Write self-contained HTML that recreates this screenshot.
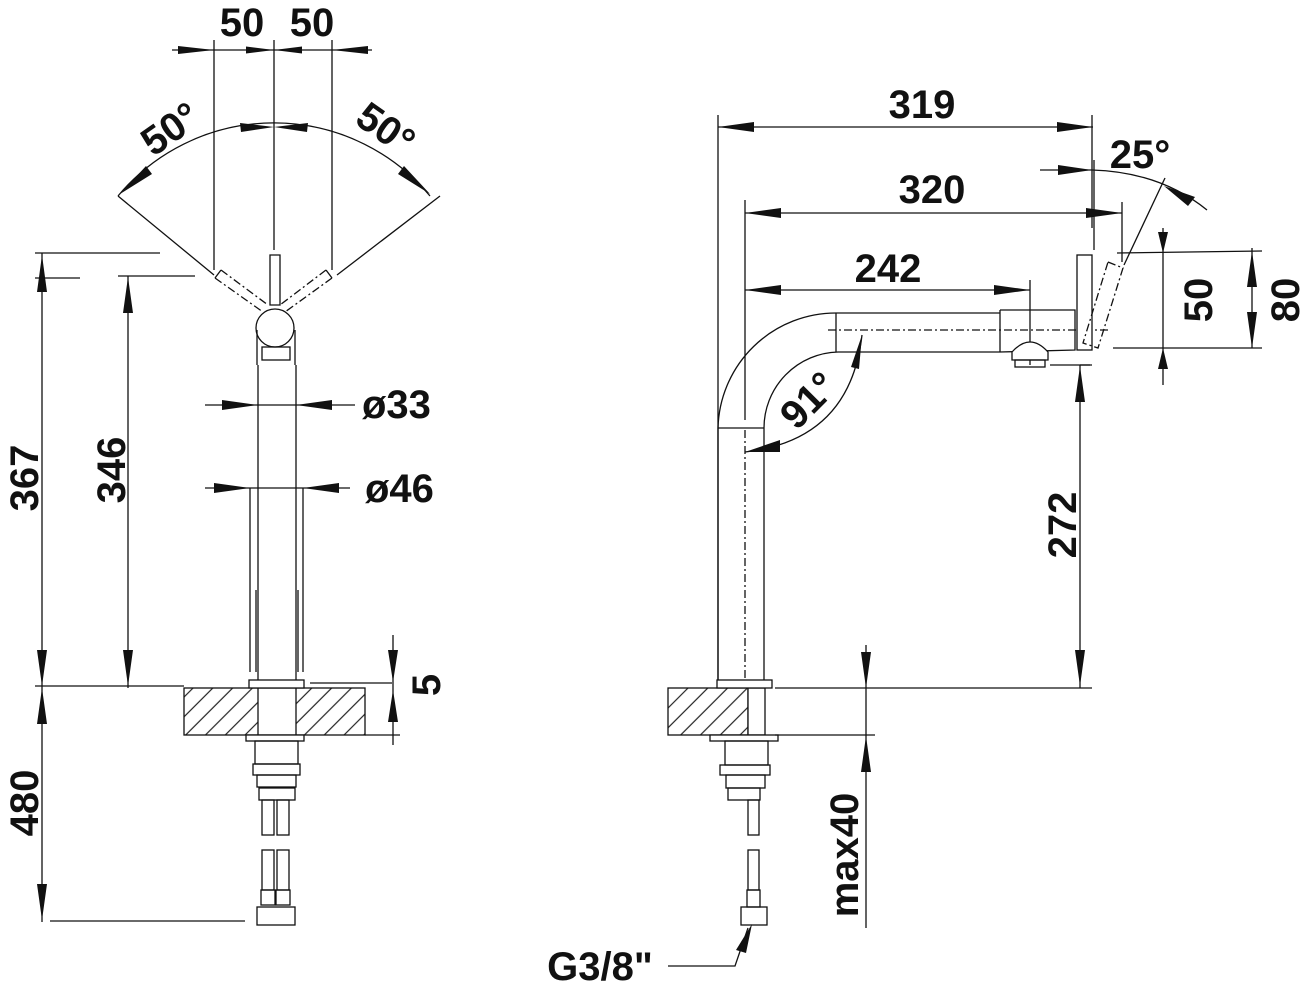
<!DOCTYPE html>
<html><head><meta charset="utf-8"><style>
html,body{margin:0;padding:0;background:#fff;}
svg{display:block;}
text{font-family:"Liberation Sans",sans-serif;font-weight:bold;fill:#111;}
</style></head><body>
<svg width="1302" height="985" viewBox="0 0 1302 985" xmlns="http://www.w3.org/2000/svg">
<defs>
<pattern id="h" patternUnits="userSpaceOnUse" width="14" height="14" patternTransform="rotate(45)">
<line x1="7" y1="0" x2="7" y2="14" stroke="#222" stroke-width="1.2"/>
</pattern>
</defs>
<g stroke="#111" stroke-width="1.3" fill="none">
<!-- ========== LEFT VIEW ========== -->
<line x1="172" y1="50" x2="372" y2="50"/>
<path d="M214,50 L178,46 L178,54z M332,50 L368,46 L368,54z M274,50 L246,46.5 L246,53.5z M274,50 L302,46.5 L302,53.5z" fill="#111" stroke="none"/>
<line x1="214" y1="40" x2="214" y2="270"/>
<line x1="332" y1="40" x2="332" y2="270"/>
<line x1="274" y1="40" x2="274" y2="250"/>
<path d="M118,196 A203,203 0 0 1 430,196"/>
<path d="M274,127 L240,123 L241,132z M274,127 L308,123 L307,132z" fill="#111" stroke="none"/>
<path d="M120,194 L146,166 L152,174z M430,194 L404,166 L398,174z" fill="#111" stroke="none"/>
<line x1="118" y1="196" x2="214" y2="275"/>
<line x1="440" y1="196" x2="337" y2="275"/>
<line x1="35" y1="278" x2="80" y2="278"/>
<path d="M215,278 L263,312 M221,270 L268,305" stroke-dasharray="8,3,2,3"/>
<path d="M332,278 L285,312 M326,270 L280,305" stroke-dasharray="8,3,2,3"/>
<line x1="215" y1="278" x2="221" y2="270"/>
<line x1="332" y1="278" x2="326" y2="270"/>
<path d="M270,255 L280,255 L280,305 L270,305 Z" fill="#fff"/>
<circle cx="275" cy="328" r="19" fill="#fff"/>
<path d="M257,330 L257,365 M295,330 L295,365"/>
<rect x="262" y="347" width="28" height="13"/>
<line x1="258" y1="365" x2="258" y2="680"/>
<line x1="296" y1="365" x2="296" y2="680"/>
<line x1="250" y1="488" x2="250" y2="672"/>
<line x1="303" y1="488" x2="303" y2="672"/>
<line x1="256" y1="590" x2="256" y2="672"/>
<line x1="298" y1="590" x2="298" y2="672"/>
<line x1="205" y1="405" x2="355" y2="405"/>
<path d="M258,405 L222,400 L222,410z M296,405 L332,400 L332,410z" fill="#111" stroke="none"/>
<line x1="205" y1="488" x2="350" y2="488"/>
<path d="M250,488 L214,483 L214,493z M303,488 L339,483 L339,493z" fill="#111" stroke="none"/>
<rect x="184" y="688" width="181" height="47" fill="url(#h)"/>
<rect x="258" y="688" width="38" height="47" fill="#fff"/>
<rect x="249" y="680" width="55" height="8" fill="#fff"/>
<rect x="246" y="735" width="58" height="6" fill="#fff"/>
<rect x="255" y="741" width="43" height="23"/>
<rect x="253" y="764" width="47" height="11"/>
<rect x="257" y="775" width="39" height="12"/>
<rect x="259" y="788" width="36" height="12"/>
<rect x="262" y="800" width="12" height="35"/><rect x="277" y="800" width="12" height="35"/>
<rect x="262" y="850" width="12" height="40"/><rect x="277" y="850" width="12" height="40"/>
<rect x="261" y="890" width="14" height="15"/><rect x="276" y="890" width="14" height="15"/>
<rect x="257" y="907" width="38" height="18"/>
<line x1="35" y1="253" x2="160" y2="253"/>
<line x1="42" y1="253" x2="42" y2="922"/>
<line x1="118" y1="276" x2="195" y2="276"/>
<line x1="128" y1="276" x2="128" y2="688"/>
<line x1="35" y1="686" x2="184" y2="686"/>
<line x1="310" y1="683" x2="392" y2="683"/>
<line x1="50" y1="921" x2="245" y2="921"/>
<path d="M42,255 L37,292 L47,292z M42,686 L37,650 L47,650z M42,688 L37,724 L47,724z M42,920 L37,884 L47,884z" fill="#111" stroke="none"/>
<path d="M128,277 L123,313 L133,313z M128,686 L123,650 L133,650z" fill="#111" stroke="none"/>
<line x1="393" y1="635" x2="393" y2="745"/>
<line x1="365" y1="735" x2="400" y2="735"/>
<path d="M393,682 L388,650 L398,650z M393,690 L388,722 L398,722z" fill="#111" stroke="none"/>

<!-- ========== RIGHT VIEW ========== -->
<line x1="718" y1="115" x2="718" y2="680"/>
<line x1="718" y1="127" x2="1093" y2="127"/>
<path d="M718,127 L754,122 L754,132z M1093,127 L1057,122 L1057,132z" fill="#111" stroke="none"/>
<line x1="1092" y1="115" x2="1092" y2="228"/>
<line x1="1094" y1="160" x2="1094" y2="250"/>
<line x1="1040" y1="170" x2="1092" y2="170"/>
<path d="M1092,170 L1058,165 L1058,175z" fill="#111" stroke="none"/>
<path d="M1092,170 Q1160,172 1207,210"/>
<path d="M1164,186 L1195,197 L1188,206z" fill="#111" stroke="none"/>
<line x1="1165" y1="178" x2="1124" y2="265"/>
<line x1="745" y1="200" x2="745" y2="420"/>
<line x1="745" y1="213" x2="1122" y2="213"/>
<path d="M745,213 L781,208 L781,218z M1122,213 L1086,208 L1086,218z" fill="#111" stroke="none"/>
<line x1="1122" y1="202" x2="1122" y2="262"/>
<line x1="745" y1="290" x2="1030" y2="290"/>
<path d="M745,290 L781,285 L781,295z M1030,290 L994,285 L994,295z" fill="#111" stroke="none"/>
<line x1="1030" y1="280" x2="1030" y2="365"/>
<path d="M718,680 L718,428 A118,118 0 0 1 836,313 L1000,313"/>
<path d="M764,680 L764,428 A76,76 0 0 1 838,352 L1000,352"/>
<line x1="718" y1="428" x2="764" y2="428"/>
<line x1="836" y1="313" x2="836" y2="352"/>
<line x1="745" y1="430" x2="745" y2="680" stroke-dasharray="8,3,2,3"/>
<line x1="828" y1="330" x2="1110" y2="330" stroke-dasharray="8,3,2,3"/>
<line x1="1000" y1="310" x2="1000" y2="352"/>
<path d="M1000,310 L1075,310 L1075,350 L1000,352"/>
<path d="M1012,352 Q1030,332 1048,352 L1048,360 L1012,360Z" fill="#fff"/>
<rect x="1015" y="360" width="30" height="7"/>
<line x1="1080" y1="365" x2="1090" y2="365"/>
<rect x="1077" y="255" width="15" height="95" fill="#fff"/>
<path d="M1108,262 L1123,268 L1098,348 L1083,343Z" stroke-dasharray="8,3,2,3"/>
<path d="M745,452 Q850,440 862,335"/>
<path d="M745,452 L780,440 L780,452z M862,335 L851,367 L859,369z" fill="#111" stroke="none"/>
<line x1="1117" y1="253" x2="1262" y2="251"/>
<line x1="1113" y1="348" x2="1262" y2="348"/>
<line x1="1163" y1="228" x2="1163" y2="385"/>
<path d="M1163,253 L1158,232 L1168,232z M1163,348 L1158,369 L1168,369z" fill="#111" stroke="none"/>
<line x1="1252" y1="248" x2="1252" y2="348"/>
<path d="M1252,251 L1247,287 L1257,287z M1252,348 L1247,312 L1257,312z" fill="#111" stroke="none"/>
<line x1="1050" y1="365" x2="1092" y2="365"/>
<line x1="1080" y1="365" x2="1080" y2="688"/>
<path d="M1080,366 L1075,402 L1085,402z M1080,686 L1075,650 L1085,650z" fill="#111" stroke="none"/>
<line x1="775" y1="688" x2="1092" y2="688"/>
<rect x="668" y="688" width="80" height="47" fill="url(#h)"/>
<rect x="748" y="688" width="17" height="47" fill="#fff"/>
<rect x="717" y="680" width="55" height="8" fill="#fff"/>
<rect x="710" y="735" width="68" height="6" fill="#fff"/>
<rect x="725" y="741" width="43" height="24"/>
<rect x="720" y="765" width="50" height="10"/>
<rect x="726" y="775" width="39" height="13"/>
<rect x="728" y="788" width="32" height="12"/>
<rect x="748" y="800" width="11" height="35"/>
<rect x="748" y="850" width="11" height="40"/>
<rect x="747" y="890" width="13" height="17"/>
<rect x="741" y="907" width="26" height="18"/>
<line x1="775" y1="735" x2="875" y2="735"/>
<line x1="866" y1="645" x2="866" y2="928"/>
<path d="M866,688 L861,652 L871,652z M866,736 L861,772 L871,772z" fill="#111" stroke="none"/>
<path d="M668,966 L735,966 L748,928"/>
<path d="M752,924 L736,950 L746,953z" fill="#111" stroke="none"/>
</g>
<g font-size="40">
<text x="242" y="36" text-anchor="middle">50</text>
<text x="312" y="36" text-anchor="middle">50</text>
<text transform="translate(178,140) rotate(-35)" text-anchor="middle">50°</text>
<text transform="translate(378,140) rotate(35)" text-anchor="middle">50°</text>
<text x="362" y="418">ø33</text>
<text x="365" y="502">ø46</text>
<text transform="translate(38,478) rotate(-90)" text-anchor="middle">367</text>
<text transform="translate(125,470) rotate(-90)" text-anchor="middle">346</text>
<text transform="translate(38,803) rotate(-90)" text-anchor="middle">480</text>
<text transform="translate(440,685) rotate(-90)" text-anchor="middle">5</text>
<text x="922" y="118" text-anchor="middle">319</text>
<text x="932" y="203" text-anchor="middle">320</text>
<text x="888" y="282" text-anchor="middle">242</text>
<text x="1140" y="168" text-anchor="middle">25°</text>
<text transform="translate(1212,300) rotate(-90)" text-anchor="middle">50</text>
<text transform="translate(1299,300) rotate(-90)" text-anchor="middle">80</text>
<text transform="translate(818,410) rotate(-45)" text-anchor="middle">91°</text>
<text transform="translate(1076,525) rotate(-90)" text-anchor="middle">272</text>
<text transform="translate(858,855) rotate(-90)" text-anchor="middle">max40</text>
<text x="600" y="980" text-anchor="middle">G3/8"</text>
</g>
</svg>
</body></html>
